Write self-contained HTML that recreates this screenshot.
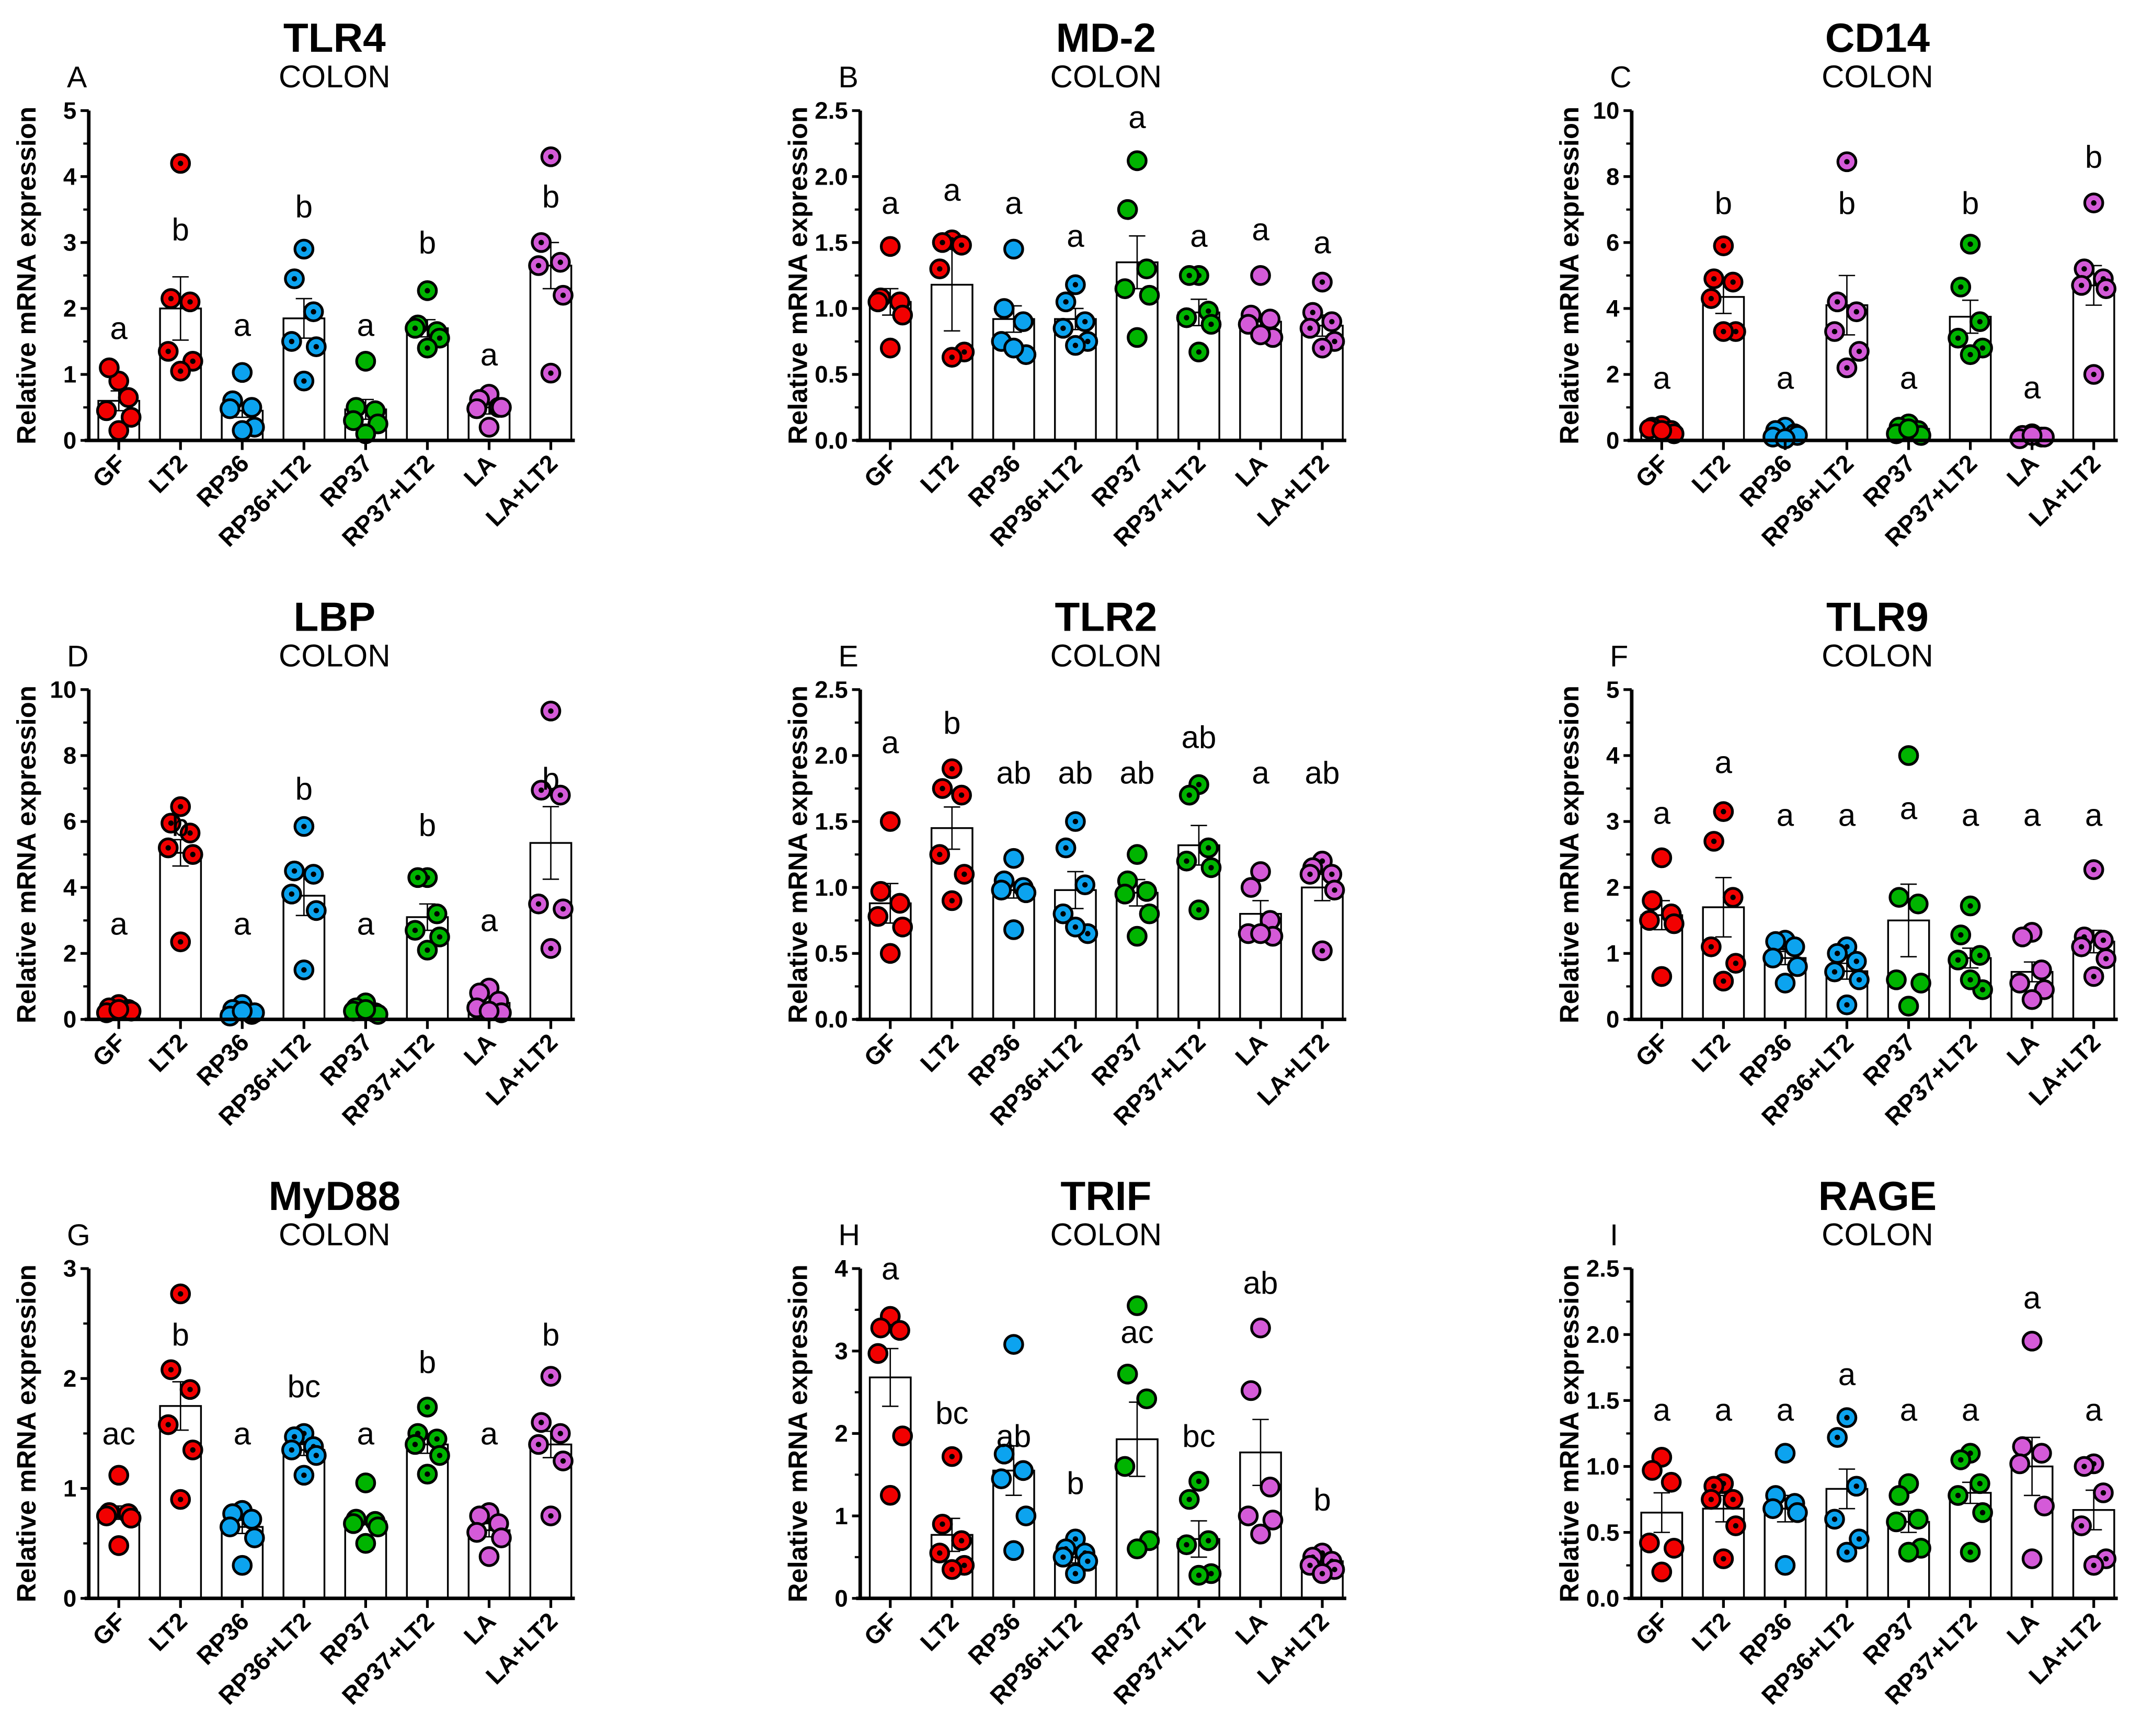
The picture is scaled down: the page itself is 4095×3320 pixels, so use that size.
<!DOCTYPE html>
<html><head><meta charset="utf-8"><style>html,body{margin:0;padding:0;background:#fff}svg{display:block}text{font-family:"Liberation Sans",Arial,sans-serif}</style></head>
<body>
<svg id="fig" xmlns="http://www.w3.org/2000/svg" width="4095" height="3320" viewBox="0 0 1568 1271.3" preserveAspectRatio="none"></svg>
<script>
const categories=["GF","LT2","RP36","RP36+LT2","RP37","RP37+LT2","LA","LA+LT2"];
const titles=["TLR4","MD-2","CD14","LBP","TLR2","TLR9","MyD88","TRIF","RAGE"];
const panelLetters=["A","B","C","D","E","F","G","H","I"];
const yMax=[5,2.5,10,10,2.5,5,3,4,2.5];
const yStep=[1,0.5,2,2,0.5,1,1,1,0.5];
const means=[
[0.6,2.0,0.45,1.85,0.47,1.7,0.5,2.65],
[1.05,1.18,0.92,0.92,1.35,0.97,0.9,0.87],
[0.35,4.35,0.2,4.1,0.35,3.75,0.1,4.7],
[0.3,5.05,0.25,3.75,0.3,3.1,0.5,5.35],
[0.88,1.45,0.98,0.98,0.96,1.32,0.8,1.0],
[1.58,1.7,0.93,0.73,1.5,0.93,0.72,1.18],
[0.78,1.75,0.65,1.35,0.7,1.4,0.62,1.4],
[2.68,0.77,1.55,0.5,1.93,0.72,1.77,0.45],
[0.65,0.68,0.68,0.83,0.58,0.8,1.0,0.67]];
const sems=[
[0.15,0.48,0.1,0.3,0.15,0.13,0.1,0.35],
[0.1,0.35,0.1,0.08,0.2,0.1,0.05,0.08],
[0.1,0.5,0.05,0.9,0.08,0.5,0.03,0.6],
[0.06,0.4,0.06,0.6,0.06,0.4,0.2,1.1],
[0.15,0.16,0.06,0.14,0.1,0.15,0.1,0.1],
[0.22,0.45,0.1,0.12,0.55,0.15,0.15,0.17],
[0.06,0.22,0.06,0.05,0.03,0.08,0.06,0.12],
[0.35,0.2,0.3,0.07,0.45,0.22,0.4,0.05],
[0.15,0.1,0.1,0.15,0.08,0.08,0.22,0.15]];
const points=[
[[0.9,1.1,0.65,0.45,0.35,0.15],[4.2,2.15,2.1,1.35,1.2,1.05],[1.03,0.6,0.5,0.48,0.2,0.15],[2.9,2.45,1.95,1.5,1.42,0.9],[1.2,0.5,0.45,0.3,0.25,0.1],[2.27,1.75,1.65,1.7,1.55,1.4],[0.7,0.62,0.5,0.48,0.5,0.2],[4.3,3.0,2.7,2.65,2.2,1.02]],
[[1.47,1.08,1.05,1.05,0.95,0.7],[1.52,1.5,1.48,1.3,0.67,0.63],[1.45,1.0,0.9,0.75,0.65,0.7],[1.18,1.05,0.9,0.85,0.75,0.72],[2.12,1.75,1.3,1.15,1.1,0.78],[1.25,1.25,0.98,0.93,0.88,0.67],[1.25,0.95,0.92,0.88,0.78,0.8],[1.2,0.97,0.9,0.85,0.75,0.7]],
[[0.45,0.4,0.3,0.35,0.2,0.3],[5.9,4.9,4.8,4.3,3.3,3.3],[0.4,0.3,0.2,0.1,0.15,0.05],[8.45,4.2,3.9,3.3,2.7,2.2],[0.5,0.4,0.3,0.2,0.15,0.35],[5.95,4.65,3.6,3.1,2.8,2.6],[0.2,0.15,0.1,0.05,0.1,0.15],[7.2,5.2,4.9,4.7,4.6,2.0]],
[[0.45,0.35,0.3,0.2,0.25,0.3],[6.45,5.95,5.65,5.2,5.0,2.35],[0.45,0.3,0.15,0.1,0.2,0.25],[5.85,4.5,4.4,3.8,3.3,1.5],[0.5,0.35,0.2,0.25,0.15,0.3],[4.3,4.3,3.2,2.7,2.5,2.1],[0.95,0.8,0.55,0.35,0.2,0.25],[9.35,6.95,6.8,3.5,3.35,2.15]],
[[1.5,0.97,0.88,0.78,0.7,0.5],[1.9,1.75,1.7,1.25,1.1,0.9],[1.22,1.05,1.0,0.98,0.96,0.68],[1.5,1.3,1.02,0.8,0.65,0.7],[1.25,1.05,0.97,0.95,0.8,0.63],[1.78,1.7,1.3,1.2,1.15,0.83],[1.12,1.0,0.75,0.65,0.63,0.65],[1.2,1.15,1.1,1.1,0.98,0.52]],
[[2.45,1.8,1.6,1.5,1.45,0.65],[3.15,2.7,1.85,1.1,0.85,0.58],[1.2,1.18,1.1,0.93,0.8,0.55],[1.1,1.0,0.88,0.72,0.6,0.22],[4.0,1.85,1.75,0.6,0.55,0.2],[1.72,1.28,0.97,0.9,0.45,0.6],[1.32,1.25,0.75,0.55,0.45,0.3],[2.27,1.25,1.2,1.1,0.92,0.65]],
[[1.12,0.78,0.77,0.75,0.73,0.48],[2.77,2.08,1.9,1.58,1.35,0.9],[0.8,0.77,0.72,0.65,0.55,0.3],[1.5,1.47,1.38,1.35,1.3,1.12],[1.05,0.72,0.7,0.68,0.65,0.5],[1.74,1.5,1.45,1.4,1.3,1.13],[0.78,0.75,0.68,0.6,0.55,0.38],[2.02,1.6,1.5,1.4,1.25,0.75]],
[[3.42,3.28,3.25,2.97,1.97,1.25],[1.72,0.9,0.7,0.55,0.4,0.35],[3.08,1.75,1.55,1.45,1.0,0.58],[0.72,0.6,0.55,0.5,0.45,0.3],[3.55,2.72,2.42,1.6,0.7,0.6],[1.42,1.2,0.7,0.65,0.3,0.28],[3.28,2.52,1.35,1.0,0.95,0.78],[0.55,0.5,0.45,0.4,0.35,0.3]],
[[1.07,0.97,0.88,0.42,0.38,0.2],[0.87,0.85,0.75,0.75,0.55,0.3],[1.1,0.78,0.72,0.68,0.65,0.25],[1.37,1.22,0.85,0.6,0.45,0.35],[0.87,0.78,0.6,0.58,0.38,0.35],[1.1,1.05,0.87,0.78,0.65,0.35],[1.95,1.15,1.1,1.02,0.7,0.3],[1.02,1.0,0.8,0.55,0.3,0.25]]];
const sigLabels=[
["a","b","a","b","a","b","a","b"],["a","a","a","a","a","a","a","a"],["a","b","a","b","a","b","a","b"],
["a","b","a","b","a","b","a","b"],["a","b","ab","ab","ab","ab","a","ab"],["a","a","a","a","a","a","a","a"],
["ac","b","a","bc","a","b","a","b"],["a","bc","ab","b","ac","bc","ab","b"],["a","a","a","a","a","a","a","a"]];
const sigPos=[
[1.7,3.2,1.75,3.55,1.75,3.0,1.3,3.7],[1.8,1.9,1.8,1.55,2.45,1.55,1.6,1.5],[1.9,7.2,1.9,7.2,1.9,7.2,1.6,8.6],
[2.9,5.9,2.9,7.0,2.9,5.9,3.0,7.3],[2.1,2.25,1.87,1.87,1.87,2.14,1.87,1.87],[3.13,3.9,3.1,3.1,3.2,3.1,3.1,3.1],
[1.5,2.4,1.5,1.93,1.5,2.15,1.5,2.4],[4.0,2.25,1.97,1.4,3.23,1.97,3.83,1.2],[1.43,1.43,1.43,1.7,1.43,1.43,2.28,1.43]];
const groupColors=["#f20000","#f20000","#0ca3ef","#0ca3ef","#00b400","#00b400","#d45ad8","#d45ad8"];
const NS="http://www.w3.org/2000/svg";
const svg=document.getElementById('fig');
function mk(tag,attrs,parent,txt){const e=document.createElementNS(NS,tag);for(const k in attrs)e.setAttribute(k,attrs[k]);if(txt!==undefined)e.textContent=txt;parent.appendChild(e);return e;}
const jitter=[0,-7,7,-9,9,0];
for(let p=0;p<9;p++){
  const col=p%3,row=Math.floor(p/3);
  const ox=65+col*565, zero=322.5+row*424, top=81+row*424, H=zero-top;
  const g=mk('g',{},svg);
  
  
  const y=v=>zero-v/yMax[p]*H;
  const x=i=>ox+22+i*45.2;
  const t=mk('text',{x:ox+180,y:38+row*424,'text-anchor':'middle','font-size':30,'font-weight':'bold'},g,titles[p]);
  
  const c=mk('text',{x:ox+180,y:64+row*424,'text-anchor':'middle','font-size':23},g,'COLON');
  
  const pl=mk('text',{x:ox-16,y:64+row*424,'font-size':22},g,panelLetters[p]);
  
  const yl=mk('text',{x:0,y:0,'text-anchor':'middle','font-size':19.5,'font-weight':'bold',transform:`translate(${ox-39},${(top+zero)/2}) rotate(-90)`},g,'Relative mRNA expression');
  
  for(let i=0;i<8;i++){
    const b=mk('rect',{x:x(i)-15,y:y(means[p][i]),width:30,height:zero-y(means[p][i]),fill:'#fff',stroke:'#000','stroke-width':1.3},g);
    
    const lo=y(means[p][i]-sems[p][i]),hi=y(means[p][i]+sems[p][i]);
    const e=mk('path',{d:`M${x(i)},${lo}V${hi}M${x(i)-6},${hi}H${x(i)+6}M${x(i)-6},${lo}H${x(i)+6}`,stroke:'#000','stroke-width':1,fill:'none'},g);
    
  }
  for(let i=0;i<8;i++){
    let color=groupColors[i];
    if(p===2&&i===3)color="#d45ad8";
    points[p][i].forEach((v,k)=>{
      const cx=x(i)+jitter[k],cy=y(v);
      const pt=mk('circle',{cx:cx,cy:cy,r:6.6,fill:color,stroke:'#000','stroke-width':2},g);
      
      if(i%2===1){const d=mk('circle',{cx:cx,cy:cy,r:2,fill:'#000'},g);
        }
    });
    const s=mk('text',{x:x(i),y:y(sigPos[p][i])+8,'text-anchor':'middle','font-size':23},g,sigLabels[p][i]);
    
  }
  const ax=mk('path',{d:`M${ox},${top}V${zero}M${ox-3},${zero}H${ox+356}`,stroke:'#000','stroke-width':2.6,fill:'none'},g);
  
  const n=Math.round(yMax[p]/yStep[p]);
  for(let k=0;k<=n;k++){
    const v=k*yStep[p];
    mk('line',{x1:ox-6,x2:ox,y1:y(v),y2:y(v),stroke:'#000','stroke-width':2},g);
    if(k<n)mk('line',{x1:ox-4,x2:ox,y1:y(v+yStep[p]/2),y2:y(v+yStep[p]/2),stroke:'#000','stroke-width':1.6},g);
    const lab=yStep[p]<1?v.toFixed(1):String(v);
    const tl=mk('text',{x:ox-9,y:y(v)+6,'text-anchor':'end','font-size':17.5,'font-weight':'bold'},g,lab);
    
  }
  for(let i=0;i<8;i++){
    mk('line',{x1:x(i),x2:x(i),y1:zero,y2:zero+7,stroke:'#000','stroke-width':2},g);
    const xl=mk('text',{x:0,y:0,'text-anchor':'end','font-size':18,'font-weight':'bold',transform:`translate(${x(i)+6},${zero+18}) rotate(-45)`},g,categories[i]);
    
  }
}
</script>
</body></html>
